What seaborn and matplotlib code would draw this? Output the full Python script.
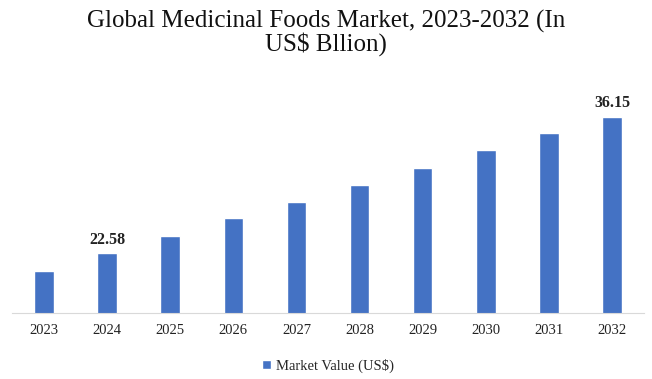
import pandas as pd
import seaborn as sns
import matplotlib.pyplot as plt

years = ['2023', '2024', '2025', '2026', '2027', '2028', '2029', '2030', '2031', '2032']
values = [20.87, 22.58, 24.28, 26.09, 27.69, 29.40, 31.00, 32.80, 34.50, 36.15]
labelled = {'2024': '22.58', '2032': '36.15'}

df = pd.DataFrame({'Year': years, 'Value': values, 'Series': 'Market Value (US$)'})

sns.set_style('white')
plt.rcParams['font.family'] = ['Liberation Serif', 'DejaVu Serif']

fig = plt.figure(figsize=(6.52, 3.79), dpi=100)
ax = fig.add_axes([0.019, 0.175, 0.968, 0.58])

sns.barplot(data=df, x='Year', y='Value', hue='Series', palette=['#4472C4'],
            saturation=1, width=0.31, ax=ax)

ax.set_ylim(16.69, 38.5)
ax.set_xlim(-0.5, 9.5)

for i, (yr, v) in enumerate(zip(years, values)):
    if yr in labelled:
        ax.text(i, v + 0.55, labelled[yr], ha='center', va='bottom',
                fontsize=11.5, fontweight='bold', color='#222222')

ax.set_xlabel('')
ax.set_ylabel('')
ax.set_yticks([])
ax.tick_params(axis='x', length=0, labelsize=10.5, pad=8, colors='#222222')
for s in ['top', 'left', 'right']:
    ax.spines[s].set_visible(False)
ax.spines['bottom'].set_color('#d9d9d9')

fig.suptitle('Global Medicinal Foods Market, 2023-2032 (In\nUS$ Bllion)',
             fontsize=18, y=0.975, color='#111111', linespacing=0.95)

ax.legend(loc='upper center', bbox_to_anchor=(0.5, -0.15), frameon=False,
          fontsize=10.5, handlelength=0.6, handleheight=0.6, handletextpad=0.3)

fig.savefig('out.png', dpi=100)
